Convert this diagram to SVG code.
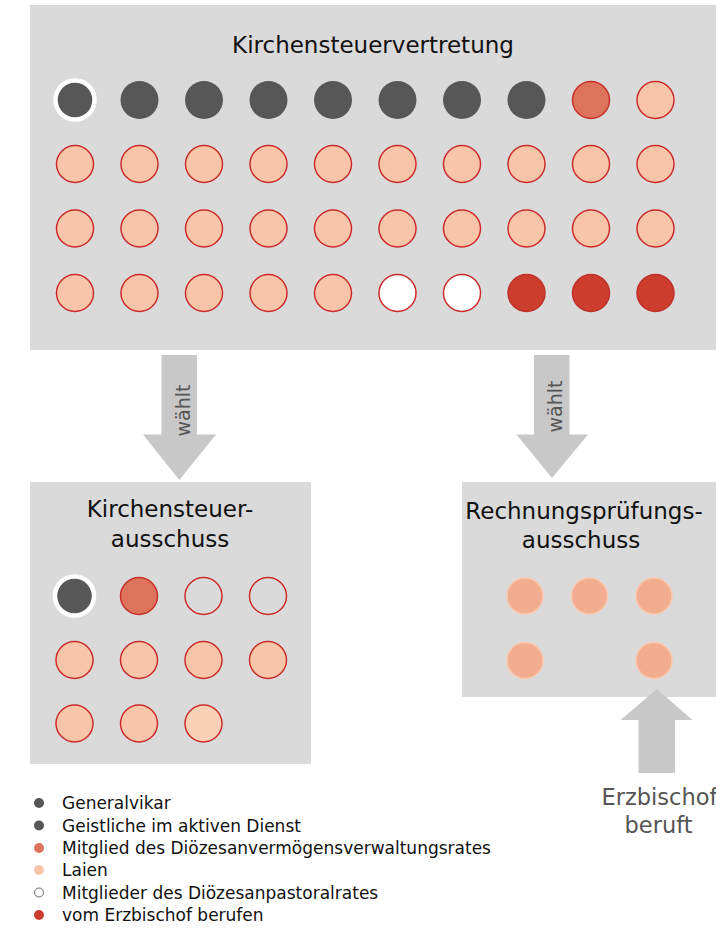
<svg xmlns="http://www.w3.org/2000/svg" width="716" height="930" viewBox="0 0 716 930">
<style>
.box{fill:#dadada}
.title{font-family:"DejaVu Sans","Noto Sans",sans-serif;font-size:23px;fill:#111;text-anchor:middle}
.lbl{font-family:"DejaVu Sans","Noto Sans",sans-serif;font-size:19px;fill:#555;text-anchor:middle}
.leg{font-family:"DejaVu Sans","Noto Sans",sans-serif;font-size:17px;fill:#111}
.gv{fill:#575757;stroke:#fff;stroke-width:4.5}
.dk{fill:#575757}
.mg{fill:#dc735a;stroke:#c8302a;stroke-width:1.5}
.la{fill:#f9c5a8;stroke:#cc2b2b;stroke-width:1.5}
.wh{fill:#fff;stroke:#cc2b2b;stroke-width:1.5}
.ho{fill:none;stroke:#cc2b2b;stroke-width:1.5}
.rd{fill:#cc3d2e;stroke:#c0302a;stroke-width:1.5}
.rp{fill:#f2ad90;stroke:#fbc8ae;stroke-width:1.5}
.arr{fill:#c8c8c8}
</style>
<g id="kirchensteuervertretung">
<rect class="box" x="30" y="5" width="686" height="345"/>
<text class="title" x="373" y="53">Kirchensteuervertretung</text>
<circle class="gv" cx="75" cy="100" r="19.5"/>
<circle class="dk" cx="139.5" cy="100" r="19"/>
<circle class="dk" cx="204" cy="100" r="19"/>
<circle class="dk" cx="268.5" cy="100" r="19"/>
<circle class="dk" cx="333" cy="100" r="19"/>
<circle class="dk" cx="397.5" cy="100" r="19"/>
<circle class="dk" cx="462" cy="100" r="19"/>
<circle class="dk" cx="526.5" cy="100" r="19"/>
<circle class="mg" cx="591" cy="100" r="18.5"/>
<circle class="la" cx="655.5" cy="100" r="18.5"/>
<g>
<circle class="la" cx="75" cy="164" r="18.5"/><circle class="la" cx="139.5" cy="164" r="18.5"/><circle class="la" cx="204" cy="164" r="18.5"/><circle class="la" cx="268.5" cy="164" r="18.5"/><circle class="la" cx="333" cy="164" r="18.5"/><circle class="la" cx="397.5" cy="164" r="18.5"/><circle class="la" cx="462" cy="164" r="18.5"/><circle class="la" cx="526.5" cy="164" r="18.5"/><circle class="la" cx="591" cy="164" r="18.5"/><circle class="la" cx="655.5" cy="164" r="18.5"/>
<circle class="la" cx="75" cy="228.5" r="18.5"/><circle class="la" cx="139.5" cy="228.5" r="18.5"/><circle class="la" cx="204" cy="228.5" r="18.5"/><circle class="la" cx="268.5" cy="228.5" r="18.5"/><circle class="la" cx="333" cy="228.5" r="18.5"/><circle class="la" cx="397.5" cy="228.5" r="18.5"/><circle class="la" cx="462" cy="228.5" r="18.5"/><circle class="la" cx="526.5" cy="228.5" r="18.5"/><circle class="la" cx="591" cy="228.5" r="18.5"/><circle class="la" cx="655.5" cy="228.5" r="18.5"/>
<circle class="la" cx="75" cy="293" r="18.5"/><circle class="la" cx="139.5" cy="293" r="18.5"/><circle class="la" cx="204" cy="293" r="18.5"/><circle class="la" cx="268.5" cy="293" r="18.5"/><circle class="la" cx="333" cy="293" r="18.5"/><circle class="wh" cx="397.5" cy="293" r="18.5"/><circle class="wh" cx="462" cy="293" r="18.5"/><circle class="rd" cx="526.5" cy="293" r="18.5"/><circle class="rd" cx="591" cy="293" r="18.5"/><circle class="rd" cx="655.5" cy="293" r="18.5"/>
</g>
</g>
<g id="kirchensteuerausschuss">
<rect class="box" x="30" y="482" width="281" height="282"/>
<text class="title" x="170" y="517">Kirchensteuer-</text>
<text class="title" x="170" y="547">ausschuss</text>
<circle class="gv" cx="74.5" cy="596" r="19.5"/>
<circle class="mg" cx="139" cy="596" r="18.5"/>
<circle class="ho" cx="203.5" cy="596" r="18.5"/>
<circle class="ho" cx="268" cy="596" r="18.5"/>
<circle class="la" cx="74.5" cy="660" r="18.5"/>
<circle class="la" cx="139" cy="660" r="18.5"/>
<circle class="la" cx="203.5" cy="660" r="18.5"/>
<circle class="la" cx="268" cy="660" r="18.5"/>
<circle class="la" cx="74.5" cy="723.5" r="18.5"/>
<circle class="la" cx="139" cy="723.5" r="18.5"/>
<circle class="la" cx="203.5" cy="723.5" r="18.5" style="fill:#fad0b6"/>
</g>
<g id="rechnungspruefungsausschuss">
<rect class="box" x="462" y="482" width="254" height="215"/>
<text class="title" x="584" y="519">Rechnungsprüfungs-</text>
<text class="title" x="581" y="548">ausschuss</text>
<circle class="rp" cx="525" cy="596" r="18"/>
<circle class="rp" cx="589.5" cy="596" r="18"/>
<circle class="rp" cx="654" cy="596" r="18"/>
<circle class="rp" cx="525" cy="660.5" r="18"/>
<circle class="rp" cx="654" cy="660.5" r="18"/>
</g>
<g id="connectors">
<polygon class="arr" points="161.5,355 197,355 197,434.5 216,434.5 179.25,480 143,434.5 161.5,434.5"/>
<text class="lbl" transform="translate(189.5,410.5) rotate(-90)">wählt</text>
<polygon class="arr" points="534,355 569.5,355 569.5,434.5 588,434.5 552,478 516.5,434.5 534,434.5"/>
<text class="lbl" transform="translate(561.5,406.5) rotate(-90)">wählt</text>
<polygon class="arr" points="638.5,773 675,773 675,720 692.5,720 657,689 620.5,720 638.5,720"/>
</g>
<g id="erzbischof">
<text class="title" x="659.5" y="805" style="fill:#555;font-size:22.5px">Erzbischof</text>
<text class="title" x="658.5" y="833" style="fill:#555;font-size:22.5px">beruft</text>
</g>
<g id="legende">
<circle class="dk" cx="39" cy="803" r="5"/>
<circle class="dk" cx="39" cy="825.5" r="5"/>
<circle cx="39" cy="848" r="5" fill="#dc735a"/>
<circle cx="39" cy="870" r="5" fill="#f9c5a8"/>
<circle cx="39" cy="892.5" r="4.5" fill="#fff" stroke="#666" stroke-width="1"/>
<circle cx="39" cy="915" r="5" fill="#cc3d2e"/>
<text class="leg" x="62" y="809">Generalvikar</text>
<text class="leg" x="62" y="831.5">Geistliche im aktiven Dienst</text>
<text class="leg" x="62" y="854">Mitglied des Diözesanvermögensverwaltungsrates</text>
<text class="leg" x="62" y="876">Laien</text>
<text class="leg" x="62" y="898.5">Mitglieder des Diözesanpastoralrates</text>
<text class="leg" x="62" y="921">vom Erzbischof berufen</text>
</g>
</svg>
